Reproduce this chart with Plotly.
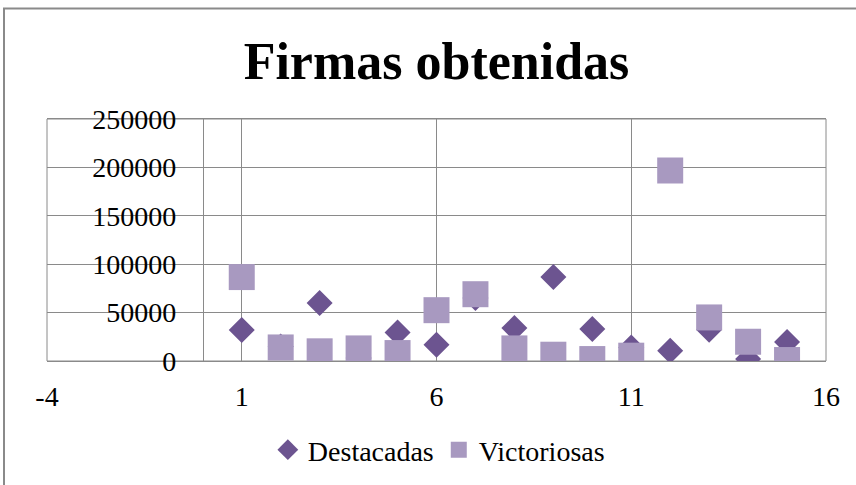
import plotly.graph_objects as go

x_vals = list(range(1, 16))
destacadas = [32000, 15000, 60000, 3000, 29500, 16800, 65000, 34000, 86700, 33000, 14000, 10600, 32300, 2000, 19500]
victoriosas = [86700, 14000, 10000, 13000, 8200, 52500, 69000, 13000, 6500, 2000, 5500, 196800, 45000, 19900, 1000]

x_ticks = [-4, 1, 6, 11, 16]
y_ticks = [0, 50000, 100000, 150000, 200000, 250000]

FONT = "Liberation Serif"
GRID = "#8a8a8a"

W, H = 856, 485

fig = go.Figure()
fig.add_trace(go.Scatter(
    x=x_vals, y=destacadas, mode="markers", name="Destacadas",
    marker=dict(symbol="diamond", size=20, color="#6C5490", line=dict(width=0)),
))
fig.add_trace(go.Scatter(
    x=x_vals, y=victoriosas, mode="markers", name="Victoriosas",
    marker=dict(symbol="square", size=26, color="#A899C0", line=dict(width=0)),
))

fig.update_layout(
    width=W, height=H,
    margin=dict(l=47, r=30, t=119, b=123),
    paper_bgcolor="white", plot_bgcolor="white",
    font=dict(family=FONT, size=28, color="black"),
    title=dict(text="<b>Firmas obtenidas</b>", font=dict(family=FONT, size=52, color="black"),
               x=0.5, xref="paper", xanchor="center",
               y=1 - 61 / H, yref="container", yanchor="middle"),
    xaxis=dict(range=[-4, 16], tickvals=x_ticks, ticktext=[str(v) for v in x_ticks],
               showgrid=True, gridcolor=GRID, gridwidth=1, zeroline=False,
               showline=True, linecolor=GRID, mirror=True,
               ticks="", ticklabelstandoff=10, domain=[0, 1]),
    yaxis=dict(range=[0, 250000], tickvals=y_ticks, ticktext=[str(v) for v in y_ticks],
               showgrid=True, gridcolor=GRID, gridwidth=1, zeroline=False,
               showline=True, linecolor=GRID, ticks="", anchor="free", position=(0 - (-4)) / 20,
               ticklabelstandoff=21),
    showlegend=True,
    legend=dict(orientation="h", x=0.503, xanchor="center", y=(362 - 450) / 243, yanchor="middle",
                font=dict(family=FONT, size=28, color="black"), bgcolor="rgba(0,0,0,0)"),
)

# plot-area frame
fig.add_shape(type="rect", xref="paper", yref="paper", x0=0, x1=1, y0=0, y1=1,
              line=dict(color=GRID, width=1), fillcolor="rgba(0,0,0,0)", layer="below")
# outer chart border
fig.add_shape(type="rect", xref="paper", yref="paper",
              x0=(4 - 47) / 779, x1=1.2, y0=-0.8, y1=(362 - 8) / 243,
              line=dict(color="#8a8a8a", width=2), fillcolor="rgba(0,0,0,0)", layer="below")

fig.write_html("out.html", config={"displayModeBar": False},
               post_script="document.body.style.margin='0';")
